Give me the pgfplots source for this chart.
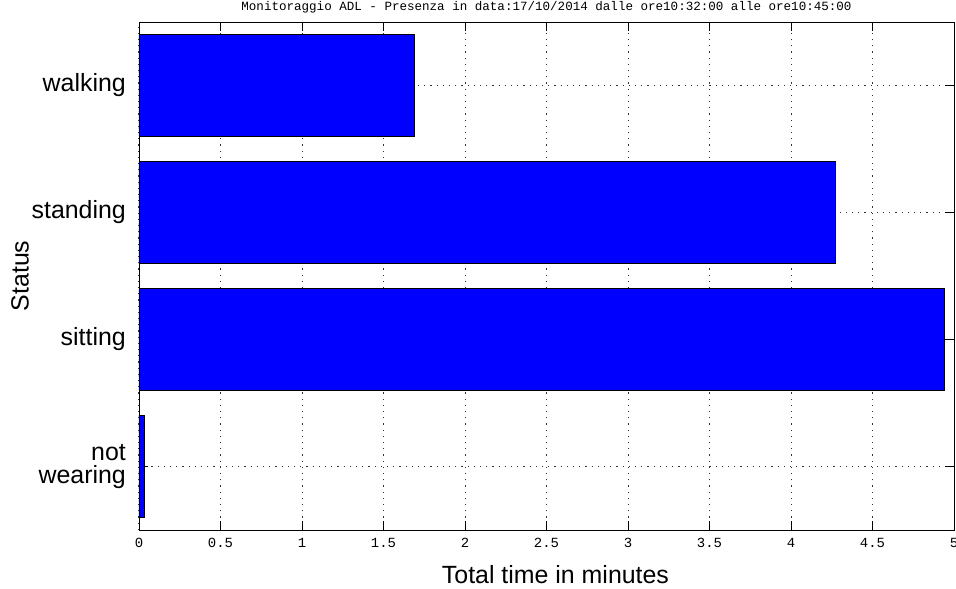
\documentclass[border=0pt]{standalone}
\usepackage{pgfplots}
\pgfplotsset{compat=1.18}
\usepackage{fontspec}
\setmainfont{Liberation Sans}
\newfontfamily\pixfont{Liberation Mono}
\begin{document}
\begin{tikzpicture}
\begin{axis}[
  at={(0,0)}, anchor=south west,
  scale only axis,
  width=815bp, height=508bp,
  xbar, bar width=0.8,
  xmin=0, xmax=5, ymin=0.5, ymax=4.5,
  xtick={0,0.5,1,1.5,2,2.5,3,3.5,4,4.5,5},
  xticklabels={0,0.5,1,1.5,2,2.5,3,3.5,4,4.5,5},
  ytick={1,2,3,4},
  yticklabels={{not\\wearing},sitting,standing,walking},
  tick align=inside,
  major tick length=9bp,
  tick style={black, line width=0.8pt},
  axis line style={black, line width=0.8pt},
  grid=major,
  grid style={black!80, dash pattern=on 1.2bp off 5bp, line width=1bp},
  xticklabel style={font=\pixfont\fontsize{14}{16}\selectfont, inner sep=0pt, anchor=north, yshift=-8bp},
  yticklabel style={font=\fontsize{25}{24}\selectfont, align=right, inner sep=0pt, anchor=east, xshift=-13bp},
  title={Monitoraggio ADL - Presenza in data:17/10/2014 dalle ore10:32:00 alle ore10:45:00},
  title style={font=\pixfont\fontsize{12.6}{14}\selectfont, at={(axis description cs:0.5,1.0177)}, anchor=center, inner sep=0pt},
  xlabel={Total time in minutes},
  xlabel style={font=\fontsize{25}{24}\selectfont, at={(axis description cs:0.511,-0.0886)}, anchor=center, inner sep=0pt},
  ylabel={Status},
  ylabel style={font=\fontsize{25}{24}\selectfont, at={(axis description cs:-0.146,0.5)}, anchor=center, inner sep=0pt},
]
\addplot[fill={rgb,255:red,0;green,0;blue,255}, draw=black, line width=0.6pt] coordinates {
  (0.03,1) (4.94,2) (4.27,3) (1.69,4)
};
\end{axis}
\pgfresetboundingbox
\path (-139bp,-59bp) rectangle (817bp,530bp);
\end{tikzpicture}
\end{document}
